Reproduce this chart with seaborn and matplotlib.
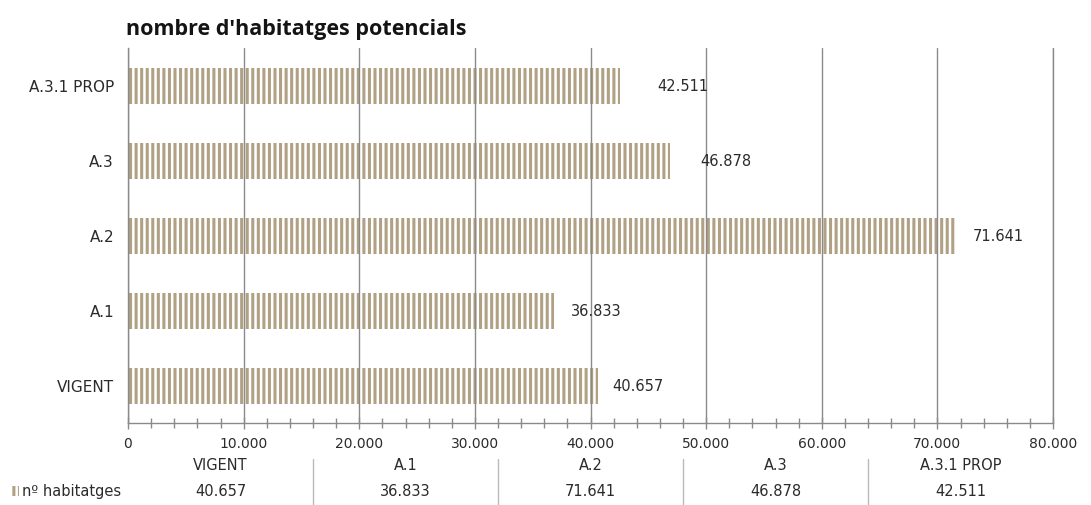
import matplotlib
matplotlib.use("Agg")
import matplotlib.pyplot as plt
import matplotlib.ticker as mticker
from matplotlib.patches import Rectangle
from matplotlib.lines import Line2D
import seaborn as sns
import pandas as pd

# data (top to bottom as in the chart)
scenarios = ["A.3.1 PROP", "A.3", "A.2", "A.1", "VIGENT"]
habitatges = [42511, 46878, 71641, 36833, 40657]
# table order (left to right)
table_order = ["VIGENT", "A.1", "A.2", "A.3", "A.3.1 PROP"]
row_label = "nº habitatges"
title = "nombre d'habitatges potencials"

stripe = "#b0a084"
grid_col = "#8a8a8a"
txt_col = "#2b2b2b"


def fmt(v):
    return "{:,}".format(int(v)).replace(",", ".")


sns.set_style("white")
plt.rcParams["font.family"] = ["DejaVu Sans"]
plt.rcParams["hatch.linewidth"] = 2.2

df = pd.DataFrame({"escenari": scenarios, "habitatges": habitatges})

fig = plt.figure(figsize=(10.91, 5.06), dpi=100)
ax = fig.add_axes([128 / 1091, 1 - 424 / 506, (1053 - 128) / 1091, 375 / 506])

sns.barplot(data=df, y="escenari", x="habitatges", order=scenarios,
            orient="h", width=0.48, color="white", ax=ax)
for p in ax.patches:
    p.set_facecolor("white")
    p.set_edgecolor(stripe)
    p.set_linewidth(0)
    p.set_hatch("|||")
    p.set_zorder(1)

ax.set_xlim(0, 80000)
ax.set_ylim(4.5, -0.5)
ax.xaxis.set_major_locator(mticker.MultipleLocator(10000))
ax.xaxis.set_minor_locator(mticker.MultipleLocator(2000))
ax.xaxis.set_major_formatter(mticker.FuncFormatter(lambda v, _: fmt(v)))
ax.grid(axis="x", which="major", color=grid_col, linewidth=1, zorder=2)
ax.set_axisbelow(False)
ax.axvline(80000, color=grid_col, linewidth=1, clip_on=False, zorder=2)

ax.tick_params(axis="x", which="both", bottom=True, direction="inout", width=1,
               color=grid_col, labelsize=10, labelcolor=txt_col, pad=5)
ax.tick_params(axis="x", which="major", length=9)
ax.tick_params(axis="x", which="minor", length=7)
ax.tick_params(axis="y", length=0, labelsize=11, labelcolor=txt_col, pad=10)
ax.set_xlabel("")
ax.set_ylabel("")
for s in ["top", "right"]:
    ax.spines[s].set_visible(False)
for s in ["left", "bottom"]:
    ax.spines[s].set_color(grid_col)
    ax.spines[s].set_linewidth(1)

# value labels at bar ends
pads = [27, 22, 12, 12, 10]
for i, (v, pd_) in enumerate(zip(habitatges, pads)):
    ax.annotate(fmt(v), xy=(v, i), xytext=(pd_, 0), textcoords="offset points",
                va="center", ha="left", fontsize=10.5, color=txt_col)

fig.text(126 / 1091, 1 - 30 / 506, title, fontsize=15.5, fontweight="bold",
         family="Open Sans", color="#141414", ha="left", va="center")

# data table under the axis
vals = dict(zip(scenarios, habitatges))
for i, name in enumerate(table_order):
    xc = (i + 0.5) / 5
    ax.text(xc, -0.112, name, transform=ax.transAxes, ha="center", va="center",
            fontsize=10.5, color=txt_col)
    ax.text(xc, -0.181, fmt(vals[name]), transform=ax.transAxes, ha="center",
            va="center", fontsize=10.5, color=txt_col)
for i in range(1, 5):
    ax.add_line(Line2D([i / 5, i / 5], [-0.096, -0.225], transform=ax.transAxes,
                       color="#bbbbbb", linewidth=1, clip_on=False))

fig.text(22 / 1091, 1 - 492 / 506, row_label, ha="left", va="center",
         fontsize=10.5, color=txt_col)
fig.patches.append(Rectangle((12 / 1091, 1 - 497 / 506), 7 / 1091, 10 / 506,
                             transform=fig.transFigure, facecolor="white",
                             edgecolor=stripe, linewidth=0, hatch="|||"))

fig.savefig("out.png", dpi=100)
